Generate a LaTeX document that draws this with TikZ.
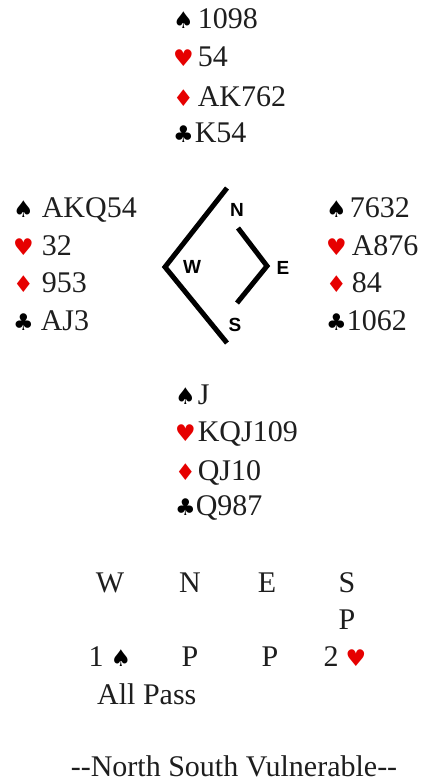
\documentclass[tikz,border=0pt]{standalone}
\usepackage{fontspec}
\setmainfont{Liberation Serif}
\newfontfamily\suitfont{DejaVu Sans}
\newfontfamily\seatfont{Liberation Sans}
\usetikzlibrary{positioning}

\definecolor{suitred}{RGB}{230,0,0}
\definecolor{ink}{RGB}{30,30,30}

\newcommand{\cardsize}{\fontsize{30}{36}\selectfont}
\newcommand{\suitS}{{\suitfont\fontsize{23}{23}\selectfont\color{black}♠}}
\newcommand{\suitH}{{\suitfont\fontsize{23}{23}\selectfont\color{suitred}♥}}
\newcommand{\suitD}{{\suitfont\fontsize{23}{23}\selectfont\color{suitred}♦}}
\newcommand{\suitC}{{\suitfont\fontsize{23}{23}\selectfont\color{black}♣}}

\begin{document}
\begin{tikzpicture}[x=1pt, y=-1pt,
        hand/.style={anchor=base west, inner sep=0pt, font=\cardsize, text=ink},
        bid/.style={anchor=base, inner sep=0pt, font=\cardsize, text=ink},
        seat/.style={inner sep=0pt, font=\seatfont\bfseries\fontsize{19}{19}\selectfont},
        compass/.style={line width=5pt, draw=black}
    ]
        \useasboundingbox (0,0) rectangle (426,782);

        % North
        \node[hand] (n1) at (173,28) {\suitS\hspace{4pt}1098};
        \node[hand] (n2) at (173,66) {\suitH\hspace{4pt}54};
        \node[hand] (n3) at (173,106) {\suitD\hspace{4pt}AK762};
        \node[hand] (n4) at (173,142) {\suitC\hspace{1pt}K54};

        % West
        \node[hand] (w1) at (13,217) {\suitS\hspace{8pt}AKQ54};
        \node[hand] (w2) at (13,255) {\suitH\hspace{8pt}32};
        \node[hand] (w3) at (13,292) {\suitD\hspace{8pt}953};
        \node[hand] (w4) at (13,330) {\suitC\hspace{7pt}AJ3};

        % East
        \node[hand] (e1) at (326,217) {\suitS\hspace{3pt}7632};
        \node[hand] (e2) at (326,255) {\suitH\hspace{5pt}A876};
        \node[hand] (e3) at (326,292) {\suitD\hspace{5pt}84};
        \node[hand] (e4) at (326,330) {\suitC\hspace{0pt}1062};

        % South
        \node[hand] (s1) at (175,404) {\suitS\hspace{2pt}J};
        \node[hand] (s2) at (175,441) {\suitH\hspace{2pt}KQJ109};
        \node[hand] (s3) at (175,480) {\suitD\hspace{2pt}QJ10};
        \node[hand] (s4) at (175,515) {\suitC\hspace{0pt}Q987};

        % compass
        \draw[compass] (227,188) -- (165,267) -- (227,343);
        \draw[compass] (238,228) -- (267,266) -- (237,303);
        \node[seat] (cn) at (237,210) {N};
        \node[seat] (cw) at (192,267) {W};
        \node[seat] (ce) at (283,268) {E};
        \node[seat] (cs) at (235,325) {S};

        % bidding
        \node[bid] (bw) at (110,592) {W};
        \node[bid] (bn) at (190,592) {N};
        \node[bid] (be) at (267,592) {E};
        \node[bid] (bs) at (347,592) {S};
        \node[bid] (b1) at (347,629) {P};
        \node[bid] (b2) at (110,666) {1\hspace{7pt}\suitS};
        \node[bid] (b3) at (190,666) {P};
        \node[bid] (b4) at (270,666) {P};
        \node[bid] (b5) at (345,666) {2\hspace{7pt}\suitH};
        \node[hand] (b6) at (97,704) {All Pass};

        \node[bid] (vul) at (234,776) {-{}-North South Vulnerable-{}-};
    \end{tikzpicture}
\end{document}
